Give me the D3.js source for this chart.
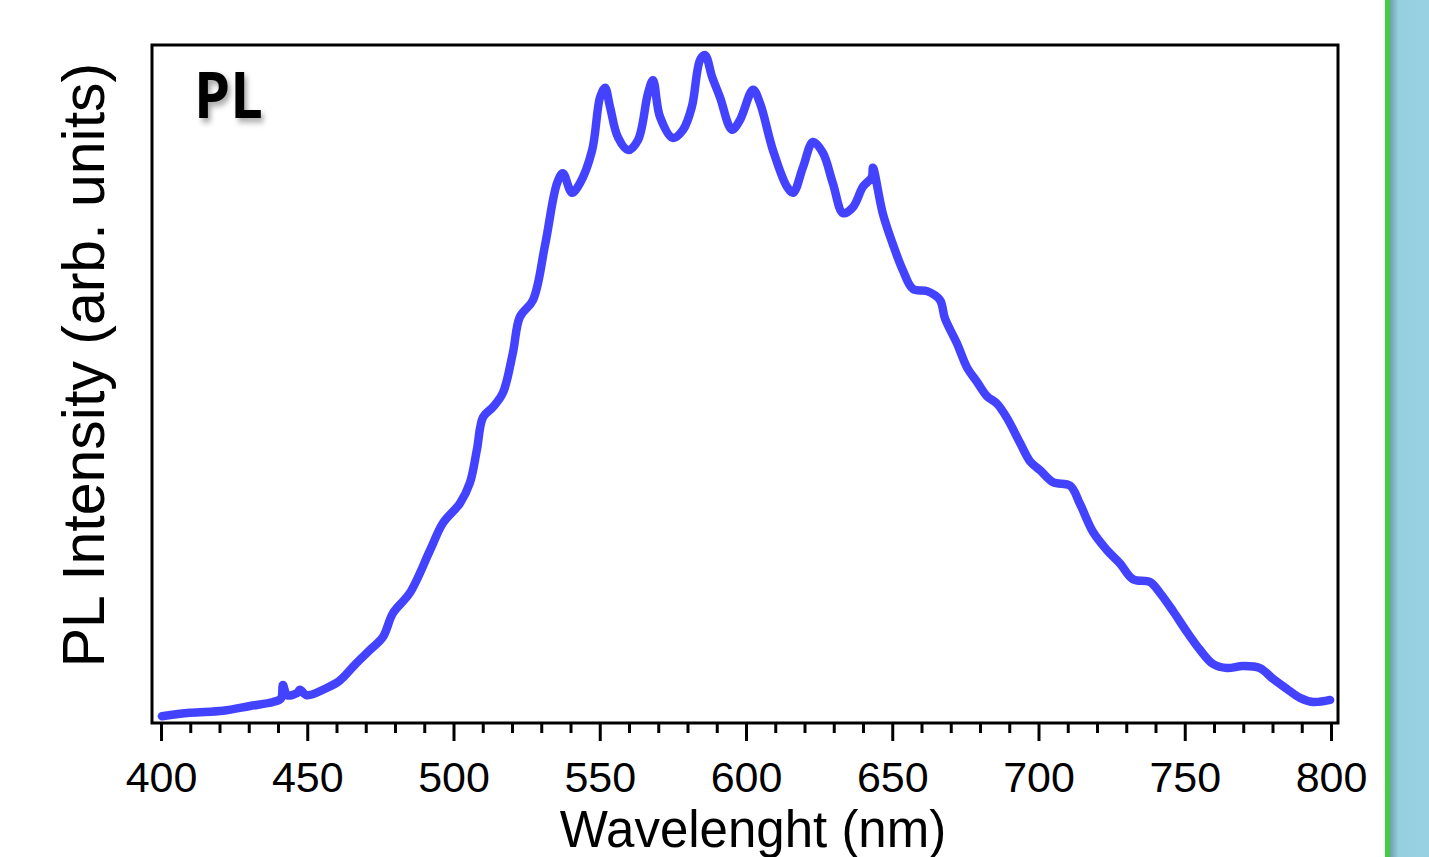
<!DOCTYPE html>
<html>
<head>
<meta charset="utf-8">
<script src="https://cdn.jsdelivr.net/npm/d3@7"></script>
<style>
  html, body { margin: 0; padding: 0; background: #fff; }
  svg { display: block; }
  .tick text { font-family: "Liberation Sans", Arial, sans-serif; }
</style>
</head>
<body>
<svg class="js-render-chart" width="1429" height="857"></svg>
<script>
"use strict";

//data

const wavelength = [
  400.3, 409.9, 421.2, 430.4, 438.3, 441.0, 441.7, 443.1, 446.5, 447.5, 449.9, 456.8,
  461.2, 466.3, 471.5, 475.9, 479.3, 485.1, 492.0, 496.4, 502.2, 505.6, 508.0, 510.1,
  513.5, 516.9, 520.3, 522.7, 527.2, 531.3, 535.4, 537.4, 540.5, 543.2, 547.4, 550.1,
  551.8, 553.5, 556.2, 559.7, 563.1, 566.5, 568.2, 570.6, 575.0, 578.5, 581.5, 584.3,
  586.0, 588.4, 591.1, 595.2, 597.9, 602.4, 604.8, 609.2, 614.0, 616.1, 619.5, 622.9,
  626.3, 629.7, 633.2, 636.6, 640.0, 643.0, 643.4, 646.8, 650.3, 653.7, 657.1, 661.9,
  666.3, 668.0, 672.1, 675.6, 679.0, 682.4, 685.8, 689.2, 693.7, 697.1, 700.5, 705.0,
  710.8, 714.2, 718.6, 723.4, 727.9, 732.3, 738.1, 741.5, 746.0, 750.8, 755.2, 759.7,
  764.4, 769.9, 775.7, 780.2, 785.0, 789.4, 793.8, 799.7
];

const intensity = [
  1.0, 1.5, 1.8, 2.5, 3.1, 3.6, 5.6, 4.1, 4.4, 4.9, 4.1, 5.2,
  6.3, 8.6, 10.8, 12.7, 16.2, 19.2, 25.5, 29.5, 32.4, 35.4, 40.3, 45.1,
  46.6, 48.7, 54.6, 59.9, 62.4, 70.5, 79.6, 81.1, 78.2, 79.6, 84.5, 92.3,
  93.7, 90.9, 86.4, 84.5, 86.0, 92.9, 94.8, 89.4, 86.3, 87.5, 90.9, 97.8,
  98.5, 95.3, 92.3, 87.5, 88.9, 93.4, 91.4, 84.5, 79.1, 78.2, 82.0, 85.7,
  84.1, 79.6, 75.2, 76.1, 79.1, 80.5, 81.9, 75.1, 70.5, 66.7, 64.0, 63.7,
  62.4, 59.7, 56.0, 52.4, 50.3, 48.2, 47.1, 45.0, 41.3, 38.6, 37.3, 35.5,
  35.0, 32.3, 28.2, 25.5, 23.5, 21.2, 20.8, 19.2, 16.5, 13.4, 10.8, 8.7,
  8.1, 8.4, 8.1, 6.5, 5.0, 3.7, 3.1, 3.4
];

const majorTicks = [400, 450, 500, 550, 600, 650, 700, 750, 800];
const minorTicks = d3.range(400, 801, 10).filter((t) => t % 50 !== 0);

const xTitle = "Wavelenght (nm)";
const yTitle = "PL Intensity (arb. units)";
const panelLabel = "PL";

//svg logic

const chart = {

  //params

  params() {
    return {
      left: 152,
      right: 1338,
      top: 45,
      bottom: 723,
      x: d3.scaleLinear().domain([400, 800]).range([161, 1331]),
      y: d3.scaleLinear().domain([0, 100]).range([723, 45]),
      svg: d3.select(".js-render-chart")
    };
  },

  //side panel

  sidePanel(p) {

    const defs = p.svg.append("defs");

    const grad = defs.append("linearGradient")
      .attr("id", "panel-grad")
      .attr("x1", 0).attr("x2", 1).attr("y1", 0).attr("y2", 0);

    grad.append("stop").attr("offset", "0%").attr("stop-color", "#6f9fae");
    grad.append("stop").attr("offset", "22%").attr("stop-color", "#96cfe0");
    grad.append("stop").attr("offset", "100%").attr("stop-color", "#98d1e2");

    p.svg.append("rect")
      .attr("x", 1390).attr("y", 0)
      .attr("width", 39).attr("height", 857)
      .attr("fill", "url(#panel-grad)");

    p.svg.append("rect")
      .attr("x", 1385).attr("y", 0)
      .attr("width", 5).attr("height", 857)
      .attr("fill", "#45cc45");

    //label shadow

    const f = defs.append("filter")
      .attr("id", "label-shadow")
      .attr("x", "-20%").attr("y", "-20%")
      .attr("width", "160%").attr("height", "160%");

    f.append("feDropShadow")
      .attr("dx", 3).attr("dy", 4)
      .attr("stdDeviation", 3)
      .attr("flood-color", "#000")
      .attr("flood-opacity", 0.35);

  },

  //axes

  axes(p) {

    const { svg, x, bottom } = p;

    svg.append("g")
      .attr("transform", `translate(0,${bottom + 1})`)
      .call(d3.axisBottom(x).tickValues(minorTicks).tickSize(9).tickFormat(""))
      .call((g) => g.select(".domain").remove())
      .call((g) => g.selectAll("line").attr("stroke", "#000").attr("stroke-width", 3));

    svg.append("g")
      .attr("transform", `translate(0,${bottom + 1})`)
      .call(d3.axisBottom(x).tickValues(majorTicks).tickSize(17).tickPadding(20))
      .call((g) => g.select(".domain").remove())
      .call((g) => g.selectAll("line").attr("stroke", "#000").attr("stroke-width", 3))
      .call((g) => g.selectAll("text")
        .attr("fill", "#000")
        .style("font-size", "43px"));

    svg.append("text")
      .attr("x", 753)
      .attr("y", 847)
      .attr("text-anchor", "middle")
      .style("font-family", "'Liberation Sans', Arial, sans-serif")
      .style("font-size", "51px")
      .text(xTitle);

    svg.append("text")
      .attr("transform", "translate(104,365) rotate(-90)")
      .attr("text-anchor", "middle")
      .style("font-family", "'Liberation Sans', Arial, sans-serif")
      .style("font-size", "59px")
      .text(yTitle);

  },

  //curve

  curve(p) {

    const { svg, x, y } = p;

    const pts = wavelength.map((w, i) => [w, intensity[i]]);

    const line = d3.line()
      .x((d) => x(d[0]))
      .y((d) => y(d[1]))
      .curve(d3.curveCatmullRom.alpha(0.5));

    svg.append("path")
      .datum(pts)
      .attr("d", line)
      .attr("fill", "none")
      .attr("stroke", "#4343ff")
      .attr("stroke-width", 8.5)
      .attr("stroke-linejoin", "round")
      .attr("stroke-linecap", "round");

  },

  //frame

  frame(p) {

    const { svg, left, right, top, bottom } = p;

    svg.append("rect")
      .attr("x", left)
      .attr("y", top)
      .attr("width", right - left)
      .attr("height", bottom - top)
      .attr("fill", "none")
      .attr("stroke", "#000")
      .attr("stroke-width", 3);

    svg.append("text")
      .attr("transform", "translate(194,118) scale(0.93,1.04)")
      .attr("filter", "url(#label-shadow)")
      .style("font-family", "'Open Sans', sans-serif")
      .style("font-weight", 700)
      .style("font-size", "62px")
      .text(panelLabel);

  }

};

//initialize

const params = chart.params();

["sidePanel", "curve", "frame", "axes"].forEach((step) => chart[step](params));

</script>
</body>
</html>
